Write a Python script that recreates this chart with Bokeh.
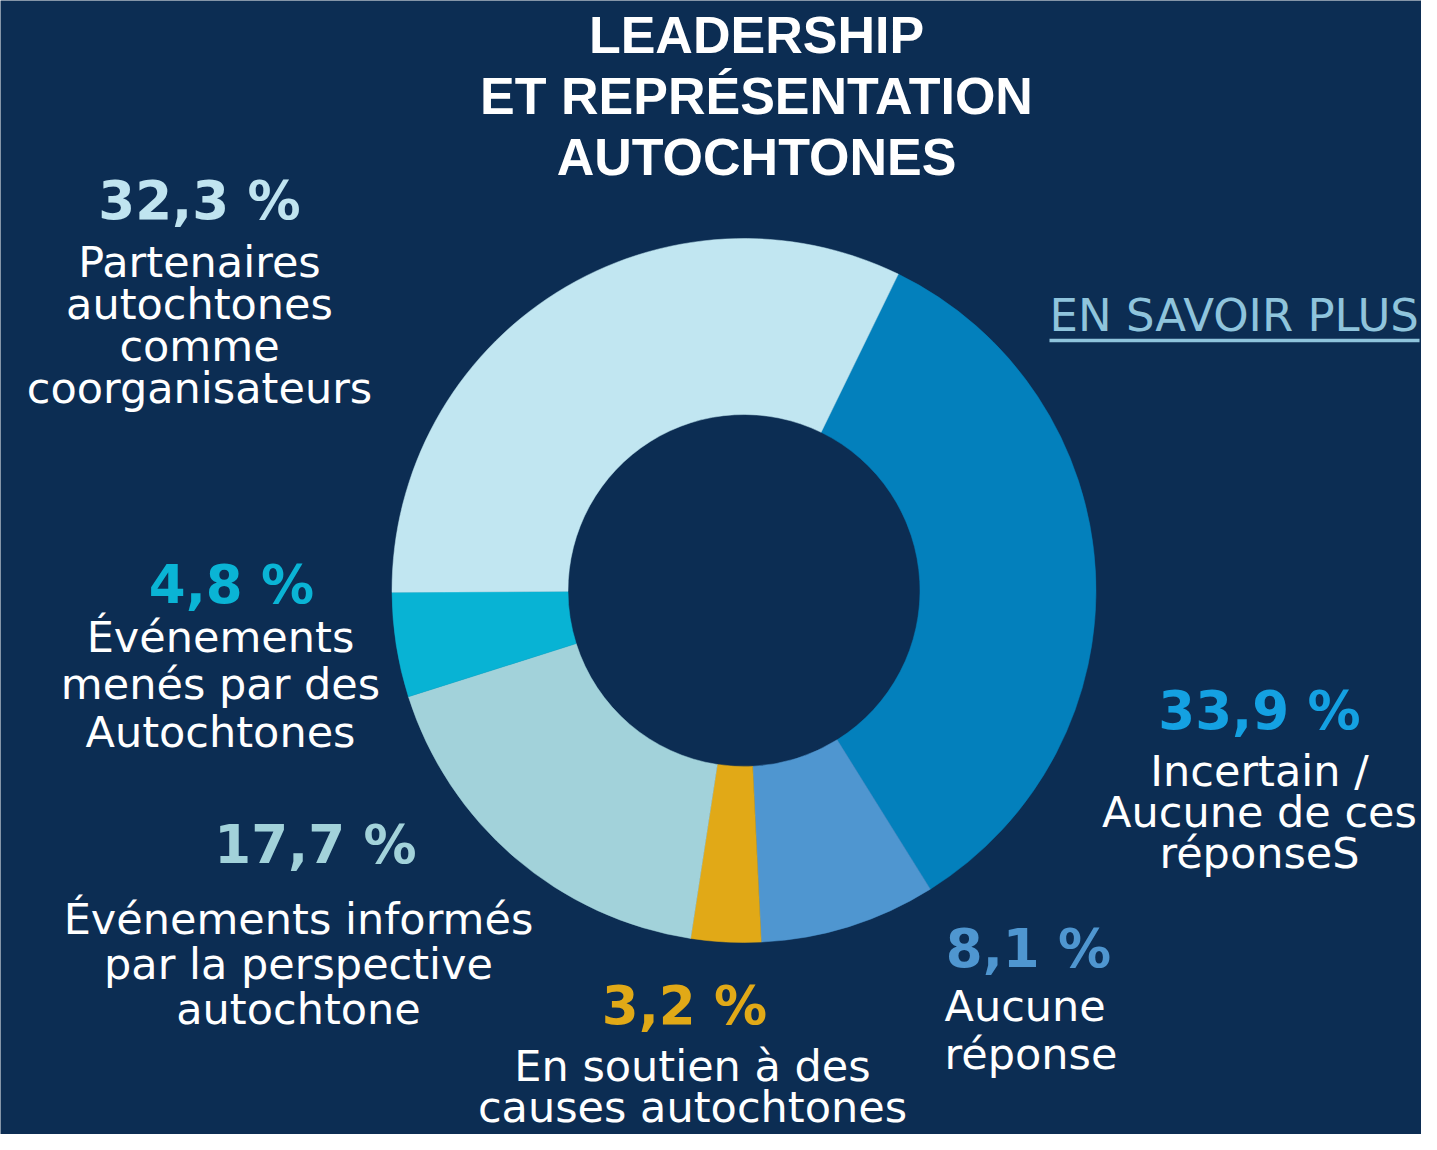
import math
from bokeh.plotting import figure
from bokeh.models import Range1d, ColumnDataSource
from bokeh.core.properties import value
from bokeh.embed import file_html
from bokeh.resources import INLINE

W, H = 1421, 1134          # figure size (page keeps an 8px margin)
REF_H = 1150               # reference height, y measured downward
BG = "#0c2d53"

title_lines = ["LEADERSHIP", "ET REPRÉSENTATION", "AUTOCHTONES"]
link_text = "EN SAVOIR PLUS"

categories = [
    "Incertain / Aucune de ces réponseS",
    "Aucune réponse",
    "En soutien à des causes autochtones",
    "Événements informés par la perspective autochtone",
    "Événements menés par des Autochtones",
    "Partenaires autochtones comme coorganisateurs",
]
values = [33.9, 8.1, 3.2, 17.7, 4.8, 32.3]
label_lines = [
    ["Incertain /", "Aucune de ces", "réponseS"],
    ["Aucune", "réponse"],
    ["En soutien à des", "causes autochtones"],
    ["Événements informés", "par la perspective", "autochtone"],
    ["Événements", "menés par des", "Autochtones"],
    ["Partenaires", "autochtones", "comme", "coorganisateurs"],
]
slice_colors = ["#0380bc", "#4f96d0", "#e1a917", "#a2d2da", "#08b3d4", "#c1e6f1"]
pct_colors = ["#14a1e2", "#4f96d0", "#e1a917", "#a2d2da", "#0ab4d5", "#c0e4f0"]

# layout (pixel coordinates, y downward)
CX, CY, R_IN, R_OUT = 743.5, 590, 176, 352
START_DEG = 26  # clockwise from 12 o'clock
pct_pos = [(1259, 731), (1028, 969), (684, 1026), (315, 865), (231, 605), (199, 221)]
line_pos = [(1259, 787, 41, "center"), (944, 1022, 48, "left"), (692, 1082, 41, "center"),
            (298, 935, 45, "center"), (220, 653, 47.5, "center"), (199, 278, 42, "center")]

FS_TITLE, FS_PCT, FS_BODY, FS_LINK = 52, 53, 43, 45
SHIFT = 0.39  # baseline correction factor (fraction of font size)


def Y(y):
    return REF_H - y


def B(y, fs):
    return Y(y - SHIFT * fs)


p = figure(width=W, height=H,
           x_range=Range1d(0, W), y_range=Range1d(REF_H - H, REF_H),
           output_backend="svg", toolbar_location=None, min_border=0,
           background_fill_color=BG, border_fill_color=BG)
p.axis.visible = False
p.grid.visible = False
p.outline_line_color = None

# donut
total = sum(values)
starts, ends = [], []
cum = 0.0
for v in values:
    t0 = START_DEG + cum / total * 360.0
    cum += v
    t1 = START_DEG + cum / total * 360.0
    starts.append(math.radians(90 - t0))
    ends.append(math.radians(90 - t1))
src = ColumnDataSource(dict(start=starts, end=ends, color=slice_colors, cat=categories))
p.annular_wedge(x=CX, y=Y(CY), inner_radius=R_IN, outer_radius=R_OUT,
                start_angle="start", end_angle="end", direction="clock",
                fill_color="color", line_color="color", line_width=0.5, source=src)

# title
p.text(x=[756] * 3, y=[B(55, FS_TITLE), B(116, FS_TITLE), B(177, FS_TITLE)], text=title_lines,
       text_font=value("Liberation Sans"), text_font_style="bold",
       text_font_size=value("%dpx" % FS_TITLE), text_color="white",
       text_align="center", text_baseline="alphabetic")

# link
p.text(x=[1049], y=[B(333, FS_LINK)], text=[link_text], text_font=value("DejaVu Sans"),
       text_font_size=value("%dpx" % FS_LINK), text_color="#8fc4dc",
       text_align="left", text_baseline="alphabetic")
p.segment(x0=[1049], y0=[Y(340)], x1=[1419], y1=[Y(340)], line_color="#8fc4dc", line_width=3.5)

# percentages
pct_text = [("%.1f" % v).replace(".", ",") + " %" for v in values]
p.text(x=[a for a, b in pct_pos], y=[B(b, FS_PCT) for a, b in pct_pos], text=pct_text,
       text_font=value("DejaVu Sans"), text_font_style="bold",
       text_font_size=value("%dpx" % FS_PCT), text_color=pct_colors,
       text_align="center", text_baseline="alphabetic")

# category lines
lx, ly, lt, la = [], [], [], []
for lines, (x0, y0, dy, al) in zip(label_lines, line_pos):
    for i, t in enumerate(lines):
        lx.append(x0)
        ly.append(B(y0 + i * dy, FS_BODY))
        lt.append(t)
        la.append(al)
lsrc = ColumnDataSource(dict(x=lx, y=ly, t=lt, a=la))
p.text(x="x", y="y", text="t", text_align="a", source=lsrc,
       text_font=value("DejaVu Sans"), text_font_size=value("%dpx" % FS_BODY),
       text_color="white", text_baseline="alphabetic")

open("out.html", "w").write(file_html(p, INLINE))
